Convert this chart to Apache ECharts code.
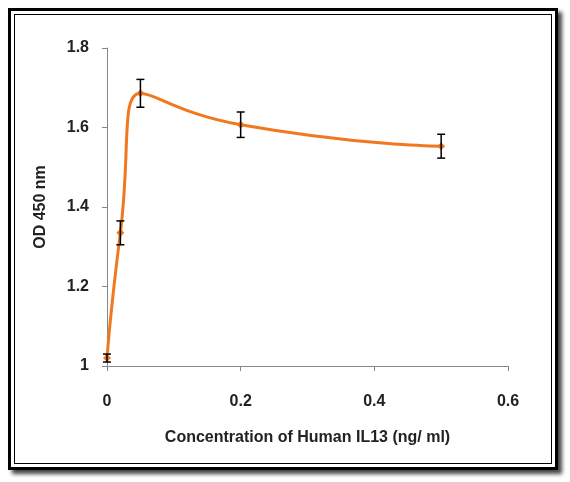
<!DOCTYPE html>
<html><head><meta charset="utf-8">
<script src="https://cdn.jsdelivr.net/npm/echarts@6/dist/echarts.min.js"></script>
<style>
body{margin:0;background:#fff;}
#frame{position:absolute;left:8px;top:8px;width:544px;height:456px;border:3px solid #000;box-shadow:4px 4px 4px #444;}
#inner{position:absolute;left:3px;top:3px;right:3px;bottom:3px;border:1px solid #000;}
#c{position:absolute;left:0;top:0;width:570px;height:482px;}
</style></head><body>
<div id="frame"><div id="inner"></div></div>
<div id="c"></div>
<script>
const xValues=[0,0.02,0.05,0.2,0.5];
const yValues=[1.02,1.335,1.686,1.607,1.553];
const yErrors=[0.01,0.03,0.035,0.032,0.03];
const chart=echarts.init(document.getElementById('c'));
const font="'Liberation Sans', Arial, sans-serif";
chart.setOption({
 animation:false,
 grid:{left:107,right:62,top:48,bottom:116},
 xAxis:{type:'value',min:0,max:0.6,interval:0.2,
  name:'Concentration of Human IL13 (ng/ ml)',nameLocation:'middle',nameGap:64,
  nameTextStyle:{fontFamily:font,fontWeight:'bold',fontSize:16,color:'#222'},
  axisLine:{lineStyle:{color:'#888'}},axisTick:{show:true,lineStyle:{color:'#888'}},
  splitLine:{show:false},
  axisLabel:{fontFamily:font,fontWeight:'bold',fontSize:16,color:'#222',margin:28}},
 yAxis:{type:'value',min:1,max:1.8,interval:0.2,
  name:'OD 450 nm',nameLocation:'middle',nameGap:58,
  nameTextStyle:{fontFamily:font,fontWeight:'bold',fontSize:16,color:'#222'},
  axisLine:{show:true,lineStyle:{color:'#888'}},axisTick:{show:true,lineStyle:{color:'#888'}},
  splitLine:{show:false},
  axisLabel:{fontFamily:font,fontWeight:'bold',fontSize:16,color:'#222',margin:18,
   formatter:v=>String(+v.toFixed(1))}},
 series:[
  {type:'line',smooth:0.6,data:xValues.map((x,i)=>[x,yValues[i]]),
   lineStyle:{color:'#F07820',width:3},itemStyle:{color:'#F07820'},
   symbol:'diamond',symbolSize:8,z:2},
  {type:'custom',z:3,data:xValues.map((x,i)=>[x,yValues[i]-yErrors[i],yValues[i]+yErrors[i]]),
   renderItem:function(p,api){
    const lo=api.coord([api.value(0),api.value(1)]);
    const hi=api.coord([api.value(0),api.value(2)]);
    const w=4,st={stroke:'#000',lineWidth:1.5};
    return {type:'group',children:[
     {type:'line',shape:{x1:lo[0],y1:lo[1],x2:hi[0],y2:hi[1]},style:st},
     {type:'line',shape:{x1:lo[0]-w,y1:lo[1],x2:lo[0]+w,y2:lo[1]},style:st},
     {type:'line',shape:{x1:hi[0]-w,y1:hi[1],x2:hi[0]+w,y2:hi[1]},style:st}]};
   }}
 ]
});
</script></body></html>
